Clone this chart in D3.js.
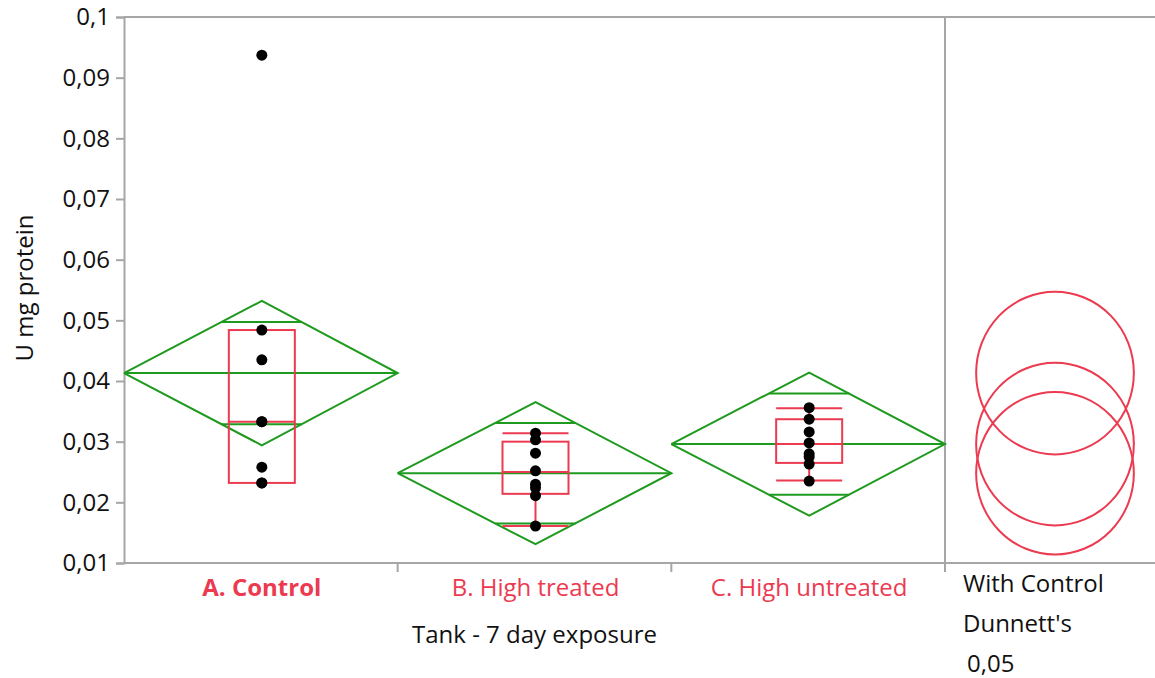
<!DOCTYPE html>
<html>
<head>
<meta charset="utf-8">
<script src="https://cdn.jsdelivr.net/npm/d3@7"></script>
<style>
  html, body { margin: 0; padding: 0; background: #fff; }
  svg { display: block; font-family: "Open Sans", "Noto Sans", sans-serif; }
</style>
</head>
<body>
<svg id="chart" width="1155" height="678"></svg>
<script>
// Groups along the x axis
const categories = ["A. Control", "B. High treated", "C. High untreated"];

// Individual observations (U mg protein) per group
const valuesA = [0.0937, 0.0484, 0.0435, 0.0333, 0.0333, 0.0258, 0.0232, 0.0232];
const valuesB = [0.0314, 0.0303, 0.0281, 0.0252, 0.0230, 0.0224, 0.0211, 0.0161];
const valuesC = [0.0356, 0.0337, 0.0316, 0.0298, 0.0280, 0.0275, 0.0263, 0.0235];

// Means diamonds: group mean and 95% confidence half-width
const means  = [0.0413, 0.0248, 0.0296];
const ciHalf = [0.0119, 0.0117, 0.0118];

// Outlier box plots
const q1        = [0.0232, 0.0214, 0.0265];
const medians   = [0.0333, 0.0250, 0.0296];
const q3        = [0.0484, 0.0300, 0.0337];
const whiskerLo = [0.0232, 0.0161, 0.0236];
const whiskerHi = [0.0484, 0.0314, 0.0355];

// Dunnett's comparison circle radius (data units)
const circleRadius = 0.0134;

// Y axis ticks
const yTicks = [0.01, 0.02, 0.03, 0.04, 0.05, 0.06, 0.07, 0.08, 0.09, 0.1];
const yTickLabels = ["0,01", "0,02", "0,03", "0,04", "0,05", "0,06", "0,07", "0,08", "0,09", "0,1"];

const groupValues = [valuesA, valuesB, valuesC];

const GREEN = "#1e9a1e";
const RED = "#ec3a50";
const GREY = "#a6a6a6";
const FONT_SIZE = "24px";

const svg = d3.select("#chart");
const plotLeft = 124, plotTop = 17, plotBottom = 563, panelRight = 945, plotRight = 1155;

const y = d3.scaleLinear().domain([0.01, 0.1]).range([plotBottom, plotTop]);
const x = d3.scaleBand().domain(categories).range([plotLeft, panelRight]).padding(0);
const bw = x.bandwidth();
const cx = c => x(c) + bw / 2 + 1;

// Frame lines
const frame = svg.append("g").attr("stroke", GREY).attr("stroke-width", 2).attr("fill", "none");
frame.append("line").attr("x1", plotLeft).attr("x2", plotRight).attr("y1", plotTop).attr("y2", plotTop);
frame.append("line").attr("x1", panelRight).attr("x2", panelRight).attr("y1", plotTop).attr("y2", plotBottom);

// Y axis
const yAxis = d3.axisLeft(y)
  .tickValues(yTicks)
  .tickFormat((d, i) => yTickLabels[i])
  .tickSize(8)
  .tickPadding(6);
const gy = svg.append("g").attr("transform", `translate(${plotLeft},0)`).call(yAxis);
gy.select(".domain").attr("stroke", GREY).attr("stroke-width", 2);
gy.selectAll(".tick line").attr("stroke", GREY).attr("stroke-width", 2);
gy.selectAll(".tick text")
  .attr("fill", "#111")
  .style("font-size", FONT_SIZE)
  .style("font-family", "'Open Sans', sans-serif");

// X axis (bottom line + category separators)
const xAxisLine = svg.append("g").attr("stroke", GREY).attr("stroke-width", 2);
xAxisLine.append("line").attr("x1", plotLeft).attr("x2", plotRight).attr("y1", plotBottom).attr("y2", plotBottom);
xAxisLine.selectAll("line.sep")
  .data(categories.slice(1).map(c => x(c)).concat([panelRight]))
  .join("line")
  .attr("class", "sep")
  .attr("x1", d => d).attr("x2", d => d)
  .attr("y1", plotBottom).attr("y2", plotBottom + 9);

// Category labels
svg.append("g").selectAll("text")
  .data(categories)
  .join("text")
  .attr("x", d => cx(d))
  .attr("y", 596)
  .attr("text-anchor", "middle")
  .attr("fill", RED)
  .attr("font-weight", (d, i) => i === 0 ? "bold" : "normal")
  .style("font-size", FONT_SIZE)
  .text(d => d);

// Axis titles
svg.append("text")
  .attr("x", x(categories[1]) + bw / 2)
  .attr("y", 643)
  .attr("text-anchor", "middle")
  .attr("fill", "#111")
  .style("font-size", FONT_SIZE)
  .text("Tank - 7 day exposure");

svg.append("text")
  .attr("transform", `translate(33, ${(plotTop + plotBottom) / 2 - 2}) rotate(-90)`)
  .attr("text-anchor", "middle")
  .attr("fill", "#111")
  .style("font-size", FONT_SIZE)
  .text("U mg protein");

// Comparison-circle panel captions
const caption = svg.append("g").attr("fill", "#111").style("font-size", FONT_SIZE);
caption.append("text").attr("x", 963).attr("y", 592).text("With Control");
caption.append("text").attr("x", 963).attr("y", 632).text("Dunnett's");
caption.append("text").attr("x", 967).attr("y", 672).text("0,05");

// Means diamonds
const diamonds = svg.append("g").attr("stroke", GREEN).attr("stroke-width", 2).attr("fill", "none");
categories.forEach((c, i) => {
  const x0 = x(c), x1 = x(c) + bw, xm = cx(c);
  const m = means[i], h = ciHalf[i];
  diamonds.append("path").attr("d", d3.line()([
    [x0, y(m)], [xm, y(m + h)], [x1, y(m)], [xm, y(m - h)], [x0, y(m)]
  ]));
  diamonds.append("line").attr("x1", x0).attr("x2", x1).attr("y1", y(m)).attr("y2", y(m));
  // Overlap marks at mean ± h/√2
  const off = h / Math.SQRT2;
  const halfW = (bw / 2) * (1 - 1 / Math.SQRT2);
  [m + off, m - off].forEach(v => {
    diamonds.append("line")
      .attr("x1", xm - halfW).attr("x2", xm + halfW)
      .attr("y1", y(v)).attr("y2", y(v));
  });
});

// Box plots
const boxW = 66;
const boxes = svg.append("g").attr("stroke", RED).attr("stroke-width", 2).attr("fill", "none");
categories.forEach((c, i) => {
  const xm = cx(c);
  boxes.append("rect")
    .attr("x", xm - boxW / 2).attr("width", boxW)
    .attr("y", y(q3[i])).attr("height", y(q1[i]) - y(q3[i]));
  boxes.append("line")
    .attr("x1", xm - boxW / 2).attr("x2", xm + boxW / 2)
    .attr("y1", y(medians[i])).attr("y2", y(medians[i]));
  if (whiskerHi[i] > q3[i]) {
    boxes.append("line").attr("x1", xm).attr("x2", xm).attr("y1", y(q3[i])).attr("y2", y(whiskerHi[i]));
    boxes.append("line").attr("x1", xm - boxW / 2).attr("x2", xm + boxW / 2)
      .attr("y1", y(whiskerHi[i])).attr("y2", y(whiskerHi[i]));
  }
  if (whiskerLo[i] < q1[i]) {
    boxes.append("line").attr("x1", xm).attr("x2", xm).attr("y1", y(q1[i])).attr("y2", y(whiskerLo[i]));
    boxes.append("line").attr("x1", xm - boxW / 2).attr("x2", xm + boxW / 2)
      .attr("y1", y(whiskerLo[i])).attr("y2", y(whiskerLo[i]));
  }
});

// Observations
const pts = svg.append("g").attr("fill", "#000");
categories.forEach((c, i) => {
  pts.selectAll(null)
    .data(groupValues[i])
    .join("circle")
    .attr("cx", cx(c))
    .attr("cy", d => y(d))
    .attr("r", 5.5);
});

// Dunnett's comparison circles
const circX = (panelRight + plotRight) / 2 + 5;
const ry = y(0) - y(circleRadius);
svg.append("g").attr("stroke", RED).attr("stroke-width", 2).attr("fill", "none")
  .selectAll("ellipse")
  .data(means)
  .join("ellipse")
  .attr("cx", circX)
  .attr("cy", d => y(d))
  .attr("rx", ry * 0.97)
  .attr("ry", ry);
</script>
</body>
</html>
